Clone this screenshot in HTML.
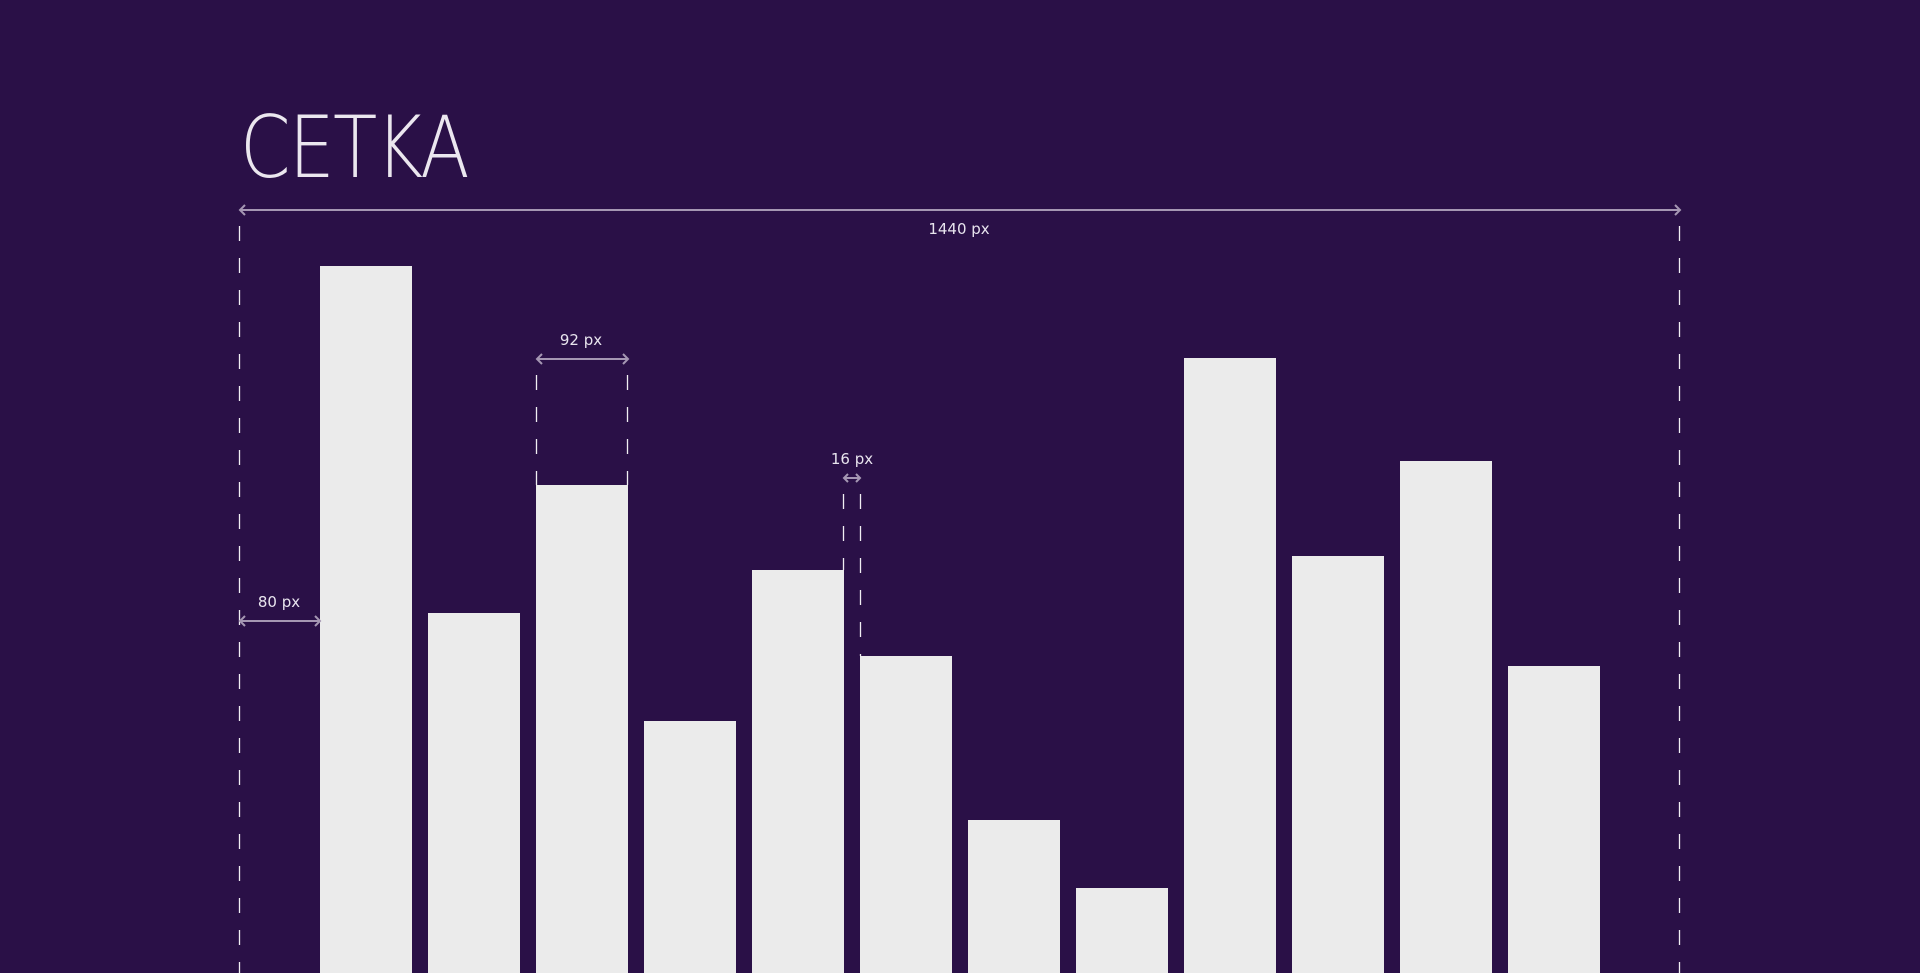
<!DOCTYPE html>
<html><head><meta charset="utf-8"><style>
html,body{margin:0;padding:0;background:#2a1047;width:1920px;height:973px;overflow:hidden}
svg{display:block}
text{font-family:"DejaVu Sans","Liberation Sans",sans-serif;fill:#e8e4ee}
</style></head><body>
<svg width="1920" height="973" viewBox="0 0 1920 973">
<rect width="1920" height="973" fill="#2a1047"/>
<text x="240" y="177" style="font-family:'DejaVu Sans','Liberation Sans',sans-serif;font-size:86px;font-weight:200;fill:#ebe7ef;letter-spacing:-2px" textLength="228" lengthAdjust="spacingAndGlyphs">CETKA</text>
<g fill="#ebebeb">
<rect x="320" y="266" width="92" height="707"/>
<rect x="428" y="613" width="92" height="360"/>
<rect x="536" y="485" width="92" height="488"/>
<rect x="644" y="721" width="92" height="252"/>
<rect x="752" y="570" width="92" height="403"/>
<rect x="860" y="656" width="92" height="317"/>
<rect x="968" y="820" width="92" height="153"/>
<rect x="1076" y="888" width="92" height="85"/>
<rect x="1184" y="358" width="92" height="615"/>
<rect x="1292" y="556" width="92" height="417"/>
<rect x="1400" y="461" width="92" height="512"/>
<rect x="1508" y="666" width="92" height="307"/>
</g>
<g stroke="#f0eef3" stroke-width="1.3" stroke-dasharray="15 17" fill="none">
<line x1="239.5" y1="226" x2="239.5" y2="973"/>
<line x1="1679.5" y1="226" x2="1679.5" y2="973"/>
<line x1="536.5" y1="375" x2="536.5" y2="485"/>
<line x1="627.5" y1="375" x2="627.5" y2="485"/>
<line x1="843.5" y1="494" x2="843.5" y2="570"/>
<line x1="860.5" y1="494" x2="860.5" y2="656"/>
</g>
<g stroke="#a597b3" stroke-width="2" fill="none">
<line x1="240" y1="210" x2="1680" y2="210"/>
<polyline points="245,205 240,210 245,215"/><polyline points="1675,205 1680,210 1675,215"/>
<line x1="537" y1="359" x2="628" y2="359"/>
<polyline points="542,354 537,359 542,364"/><polyline points="623,354 628,359 623,364"/>
<line x1="844" y1="478" x2="860" y2="478"/>
<polyline points="848,474 844,478 848,482"/><polyline points="856,474 860,478 856,482"/>
<line x1="240" y1="621" x2="320" y2="621"/>
<polyline points="245,616 240,621 245,626"/><polyline points="315,616 320,621 315,626"/>
</g>
<g font-size="15" text-anchor="middle">
<text x="959" y="234">1440 px</text>
<text x="581" y="345">92 px</text>
<text x="852" y="464">16 px</text>
<text x="279" y="607">80 px</text>
</g>
</svg>
</body></html>
